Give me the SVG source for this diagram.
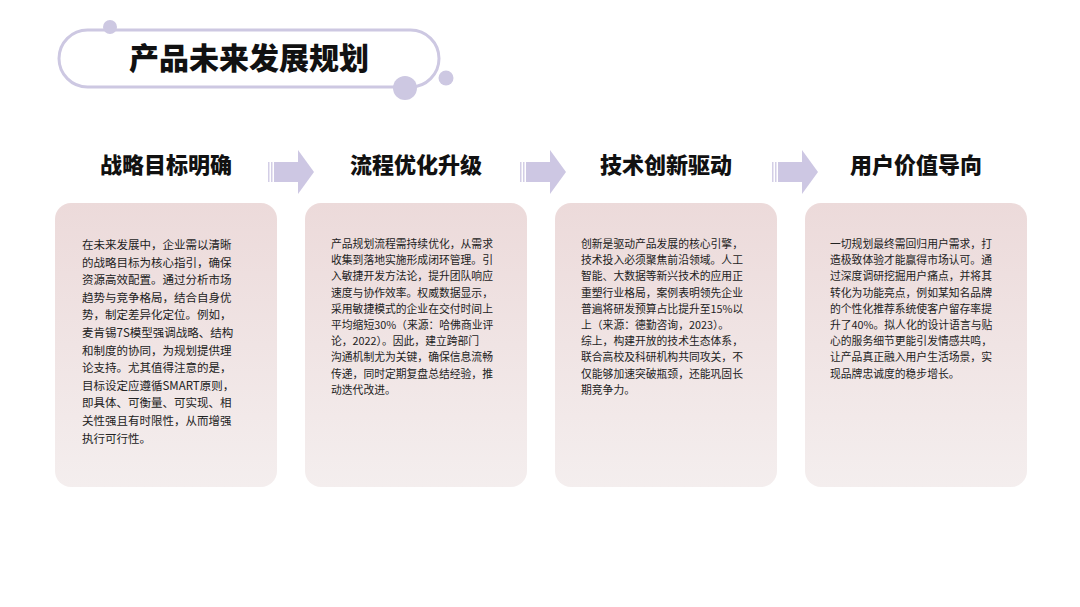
<svg xmlns="http://www.w3.org/2000/svg" width="1080" height="607" viewBox="0 0 1080 607">
<defs>
<linearGradient id="cg" x1="0" y1="0" x2="0" y2="1"><stop offset="0" stop-color="#ecdada"/><stop offset="1" stop-color="#f4eeee"/></linearGradient>
<g id="arr"><rect x="0" y="12" width="1.5" height="20" fill="#d3cee6"/><rect x="3" y="12" width="1.5" height="20" fill="#d3cee6"/><rect x="6" y="12" width="24" height="20" fill="#cdc7e3"/><polygon points="30,0 46,22 30,44" fill="#cdc7e3"/></g>
</defs>
<style>
.h{font-family:"Noto Sans CJK SC",sans-serif;font-weight:900;font-size:22px;fill:#111;text-anchor:middle}
.t{font-family:"Noto Sans CJK SC",sans-serif;font-size:11.5px;fill:#222}
.card{fill:url(#cg)}
</style>
<rect width="1080" height="607" fill="#fff"/>
<g id="title">
<rect x="59" y="30" width="380" height="57" rx="28.5" fill="none" stroke="#cdc8e2" stroke-width="3"/>
<circle cx="110" cy="27" r="7" fill="#cdc8e2"/>
<circle cx="405" cy="88" r="12" fill="#cdc8e2"/>
<circle cx="446" cy="78" r="7.5" fill="#cdc8e2"/>
<text x="249" y="69" font-family="Noto Sans CJK SC,sans-serif" font-weight="900" font-size="30" fill="#111" text-anchor="middle">产品未来发展规划</text>
</g>
<g id="connectors">
<use href="#arr" x="268" y="150"/>
<use href="#arr" x="520" y="150"/>
<use href="#arr" x="772" y="150"/>
</g>
<g id="n1"><text class="h" x="166" y="173">战略目标明确</text><rect class="card" x="55" y="203" width="222" height="284" rx="16"/>
<text class="t"><tspan x="82" y="249">在未来发展中，企业需以清晰</tspan><tspan x="82" dy="17.6">的战略目标为核心指引，确保</tspan><tspan x="82" dy="17.6">资源高效配置。通过分析市场</tspan><tspan x="82" dy="17.6">趋势与竞争格局，结合自身优</tspan><tspan x="82" dy="17.6">势，制定差异化定位。例如，</tspan><tspan x="82" dy="17.6">麦肯锡7S模型强调战略、结构</tspan><tspan x="82" dy="17.6">和制度的协同，为规划提供理</tspan><tspan x="82" dy="17.6">论支持。尤其值得注意的是，</tspan><tspan x="82" dy="17.6">目标设定应遵循SMART原则，</tspan><tspan x="82" dy="17.6">即具体、可衡量、可实现、相</tspan><tspan x="82" dy="17.6">关性强且有时限性，从而增强</tspan><tspan x="82" dy="17.6">执行可行性。</tspan></text></g>
<g id="n2"><text class="h" x="416" y="173">流程优化升级</text><rect class="card" x="305" y="203" width="222" height="284" rx="16"/>
<text class="t" style="font-size:10.8px"><tspan x="331" y="248">产品规划流程需持续优化，从需求</tspan><tspan x="331" dy="16.2">收集到落地实施形成闭环管理。引</tspan><tspan x="331" dy="16.2">入敏捷开发方法论，提升团队响应</tspan><tspan x="331" dy="16.2">速度与协作效率。权威数据显示，</tspan><tspan x="331" dy="16.2">采用敏捷模式的企业在交付时间上</tspan><tspan x="331" dy="16.2">平均缩短30%（来源：哈佛商业评</tspan><tspan x="331" dy="16.2">论，2022）。因此，建立跨部门</tspan><tspan x="331" dy="16.2">沟通机制尤为关键，确保信息流畅</tspan><tspan x="331" dy="16.2">传递，同时定期复盘总结经验，推</tspan><tspan x="331" dy="16.2">动迭代改进。</tspan></text></g>
<g id="n3"><text class="h" x="666" y="173">技术创新驱动</text><rect class="card" x="555" y="203" width="222" height="284" rx="16"/>
<text class="t" style="font-size:10.8px"><tspan x="581" y="248">创新是驱动产品发展的核心引擎，</tspan><tspan x="581" dy="16.2">技术投入必须聚焦前沿领域。人工</tspan><tspan x="581" dy="16.2">智能、大数据等新兴技术的应用正</tspan><tspan x="581" dy="16.2">重塑行业格局，案例表明领先企业</tspan><tspan x="581" dy="16.2">普遍将研发预算占比提升至15%以</tspan><tspan x="581" dy="16.2">上（来源：德勤咨询，2023）。</tspan><tspan x="581" dy="16.2">综上，构建开放的技术生态体系，</tspan><tspan x="581" dy="16.2">联合高校及科研机构共同攻关，不</tspan><tspan x="581" dy="16.2">仅能够加速突破瓶颈，还能巩固长</tspan><tspan x="581" dy="16.2">期竞争力。</tspan></text></g>
<g id="n4"><text class="h" x="916" y="173">用户价值导向</text><rect class="card" x="805" y="203" width="222" height="284" rx="16"/>
<text class="t" style="font-size:10.8px"><tspan x="830" y="248">一切规划最终需回归用户需求，打</tspan><tspan x="830" dy="16.2">造极致体验才能赢得市场认可。通</tspan><tspan x="830" dy="16.2">过深度调研挖掘用户痛点，并将其</tspan><tspan x="830" dy="16.2">转化为功能亮点，例如某知名品牌</tspan><tspan x="830" dy="16.2">的个性化推荐系统使客户留存率提</tspan><tspan x="830" dy="16.2">升了40%。拟人化的设计语言与贴</tspan><tspan x="830" dy="16.2">心的服务细节更能引发情感共鸣，</tspan><tspan x="830" dy="16.2">让产品真正融入用户生活场景，实</tspan><tspan x="830" dy="16.2">现品牌忠诚度的稳步增长。</tspan></text></g>
</svg>
